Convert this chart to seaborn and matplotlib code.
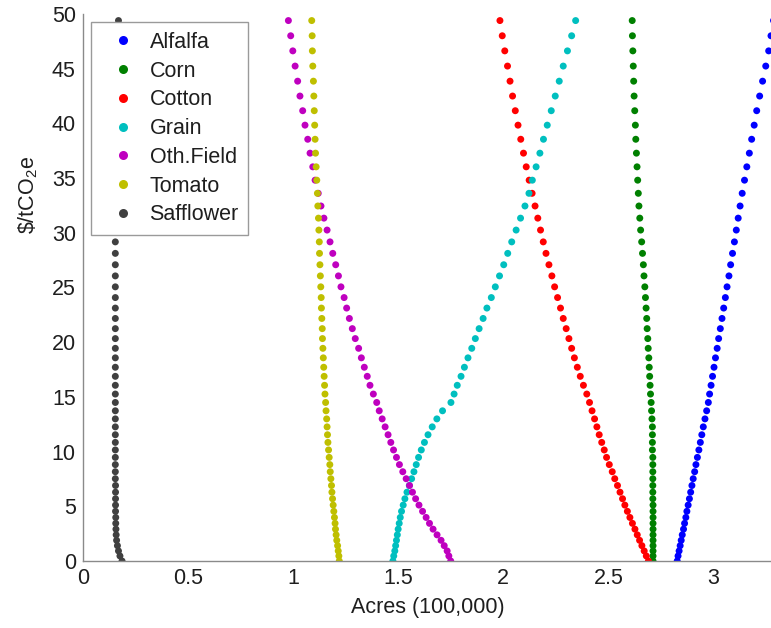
import matplotlib
matplotlib.use("Agg")
import matplotlib.pyplot as plt
from matplotlib.lines import Line2D
import pandas as pd
import seaborn as sns

# Crop names and their marker colours
crops = ["Alfalfa", "Corn", "Cotton", "Grain", "Oth.Field", "Tomato", "Safflower"]
crop_colors = ["#0000ff", "#008000", "#ff0000", "#00bfbf", "#bf00bf", "#bfbf00", "#404040"]

# Carbon price steps ($/tCO2e)
carbon_price = [0.00, 0.46, 0.92, 1.40, 1.89, 2.39, 2.91, 3.44, 3.98, 4.54,
                5.11, 5.69, 6.29, 6.90, 7.52, 8.16, 8.81, 9.47, 10.15, 10.84,
                11.54, 12.26, 12.99, 13.73, 14.49, 15.26, 16.06, 16.88, 17.71, 18.57,
                19.44, 20.33, 21.24, 22.17, 23.12, 24.08, 25.06, 26.06, 27.08, 28.12,
                29.17, 30.25, 31.34, 32.45, 33.61, 34.81, 36.03, 37.28, 38.55, 39.84,
                41.16, 42.50, 43.86, 45.24, 46.63, 48.01, 49.40]

# Acres (100,000) of each crop at each carbon price
alfalfa = [2.827, 2.831, 2.836, 2.841, 2.846, 2.851, 2.857, 2.862, 2.868, 2.873,
           2.879, 2.885, 2.891, 2.897, 2.903, 2.910, 2.916, 2.923, 2.930, 2.937,
           2.944, 2.951, 2.959, 2.967, 2.975, 2.981, 2.988, 2.995, 3.002, 3.009,
           3.017, 3.024, 3.032, 3.040, 3.048, 3.056, 3.064, 3.073, 3.081, 3.090,
           3.099, 3.108, 3.117, 3.126, 3.136, 3.147, 3.158, 3.170, 3.181, 3.193,
           3.205, 3.219, 3.233, 3.248, 3.262, 3.273, 3.285]
corn = [2.712, 2.712, 2.712, 2.712, 2.712, 2.712, 2.712, 2.712, 2.712, 2.712,
        2.712, 2.711, 2.711, 2.711, 2.711, 2.711, 2.711, 2.711, 2.709, 2.709,
        2.709, 2.709, 2.707, 2.705, 2.703, 2.700, 2.698, 2.696, 2.694, 2.692,
        2.689, 2.687, 2.684, 2.682, 2.679, 2.676, 2.673, 2.669, 2.666, 2.662,
        2.658, 2.653, 2.649, 2.645, 2.642, 2.639, 2.636, 2.633, 2.630, 2.628,
        2.625, 2.622, 2.620, 2.618, 2.616, 2.614, 2.613]
cotton = [2.690, 2.680, 2.670, 2.659, 2.648, 2.637, 2.626, 2.614, 2.602, 2.590,
          2.578, 2.567, 2.555, 2.543, 2.530, 2.518, 2.504, 2.491, 2.480, 2.468,
          2.456, 2.445, 2.434, 2.422, 2.410, 2.397, 2.381, 2.366, 2.352, 2.338,
          2.325, 2.312, 2.299, 2.285, 2.272, 2.258, 2.244, 2.231, 2.217, 2.203,
          2.190, 2.177, 2.164, 2.151, 2.137, 2.123, 2.109, 2.096, 2.083, 2.070,
          2.057, 2.044, 2.032, 2.020, 2.007, 1.995, 1.984]
grain = [1.475, 1.479, 1.484, 1.488, 1.492, 1.496, 1.500, 1.505, 1.510, 1.516,
         1.524, 1.532, 1.542, 1.553, 1.564, 1.575, 1.586, 1.597, 1.610, 1.625,
         1.642, 1.662, 1.684, 1.711, 1.751, 1.766, 1.781, 1.799, 1.815, 1.832,
         1.850, 1.867, 1.885, 1.904, 1.922, 1.943, 1.962, 1.982, 2.002, 2.021,
         2.040, 2.061, 2.082, 2.103, 2.122, 2.138, 2.156, 2.174, 2.191, 2.209,
         2.228, 2.247, 2.266, 2.285, 2.305, 2.325, 2.344]
oth_field = [1.750, 1.741, 1.733, 1.719, 1.704, 1.685, 1.666, 1.649, 1.633, 1.616,
             1.599, 1.583, 1.568, 1.554, 1.538, 1.522, 1.506, 1.492, 1.478, 1.465,
             1.452, 1.438, 1.424, 1.410, 1.398, 1.382, 1.366, 1.353, 1.339, 1.325,
             1.312, 1.296, 1.282, 1.268, 1.255, 1.243, 1.228, 1.216, 1.203, 1.189,
             1.176, 1.162, 1.147, 1.133, 1.120, 1.105, 1.094, 1.081, 1.070, 1.057,
             1.046, 1.033, 1.022, 1.010, 0.999, 0.989, 0.978]
tomato = [1.220, 1.218, 1.215, 1.212, 1.208, 1.205, 1.202, 1.200, 1.197, 1.194,
          1.191, 1.188, 1.185, 1.183, 1.180, 1.177, 1.175, 1.172, 1.169, 1.166,
          1.164, 1.162, 1.160, 1.157, 1.155, 1.152, 1.150, 1.148, 1.146, 1.144,
          1.142, 1.140, 1.139, 1.137, 1.135, 1.134, 1.132, 1.130, 1.128, 1.126,
          1.125, 1.123, 1.121, 1.118, 1.116, 1.113, 1.110, 1.107, 1.105, 1.103,
          1.101, 1.099, 1.097, 1.094, 1.092, 1.091, 1.089]
safflower = [0.187, 0.177, 0.170, 0.165, 0.161, 0.159, 0.158, 0.157, 0.157, 0.156,
             0.156, 0.156, 0.156, 0.156, 0.155, 0.155, 0.155, 0.155, 0.155, 0.155,
             0.155, 0.155, 0.155, 0.155, 0.155, 0.155, 0.155, 0.155, 0.155, 0.155,
             0.155, 0.155, 0.155, 0.155, 0.155, 0.155, 0.155, 0.155, 0.155, 0.155,
             0.155, 0.156, 0.156, 0.157, 0.158, 0.159, 0.160, 0.161, 0.162, 0.163,
             0.164, 0.165, 0.166, 0.167, 0.168, 0.169, 0.170]

x_ticks = [0, 0.5, 1, 1.5, 2, 2.5, 3]
x_tick_labels = ["0", "0.5", "1", "1.5", "2", "2.5", "3"]
y_ticks = [0, 5, 10, 15, 20, 25, 30, 35, 40, 45, 50]
y_tick_labels = ["0", "5", "10", "15", "20", "25", "30", "35", "40", "45", "50"]
x_label = "Acres (100,000)"
y_label = r"\$/tCO$_2$e"

acres = [alfalfa, corn, cotton, grain, oth_field, tomato, safflower]
frames = [pd.DataFrame({"acres": a, "price": carbon_price, "crop": c})
          for c, a in zip(crops, acres)]
df = pd.concat(frames, ignore_index=True)

sns.set_theme(style="white")
plt.rcParams["font.family"] = ["Liberation Sans", "DejaVu Sans"]
plt.rcParams["mathtext.fontset"] = "custom"
plt.rcParams["mathtext.rm"] = "Liberation Sans"
plt.rcParams["mathtext.it"] = "Liberation Sans"
text_color = "#1e1e1e"
axis_color = "#8a8a8a"
fs = 15.5

fig = plt.figure(figsize=(7.71, 6.28), dpi=100)
ax = fig.add_axes([0.1073, 0.1067, 0.8927, 0.871])

palette = dict(zip(crops, crop_colors))
sns.scatterplot(data=df, x="acres", y="price", hue="crop", hue_order=crops,
                palette=palette, s=25, linewidth=0, legend=False, ax=ax)

ax.set_xlim(0, 3.273)
ax.set_ylim(0, 50)
ax.set_xticks(x_ticks)
ax.set_xticklabels(x_tick_labels)
ax.set_yticks(y_ticks)
ax.set_yticklabels(y_tick_labels)

for side in ["top", "right"]:
    ax.spines[side].set_visible(False)
for side in ["left", "bottom"]:
    ax.spines[side].set_color(axis_color)
    ax.spines[side].set_linewidth(1.0)

ax.tick_params(axis="both", direction="in", length=4, width=1.0, color=axis_color,
               labelsize=fs, labelcolor=text_color, pad=5)

ax.set_xlabel(x_label, fontsize=fs, color=text_color)
ax.set_ylabel(y_label, fontsize=fs, color=text_color)
ax.xaxis.set_label_coords(0.502, -0.066)
ax.yaxis.set_label_coords(-0.062, 0.67)

handles = [Line2D([], [], linestyle="none", marker="o", markersize=6.5,
                  markerfacecolor=c, markeredgewidth=0, label=n)
           for n, c in zip(crops, crop_colors)]
leg = ax.legend(handles=handles, loc="upper left", bbox_to_anchor=(0.012, 0.985),
                borderaxespad=0, fontsize=fs, frameon=True, fancybox=False,
                framealpha=1, edgecolor="#9a9a9a", borderpad=0.45,
                handlelength=2.06, handletextpad=0.21, labelspacing=0.36)
leg.get_frame().set_linewidth(1.0)
for t in leg.get_texts():
    t.set_color(text_color)

fig.savefig("out.png", dpi=100)
